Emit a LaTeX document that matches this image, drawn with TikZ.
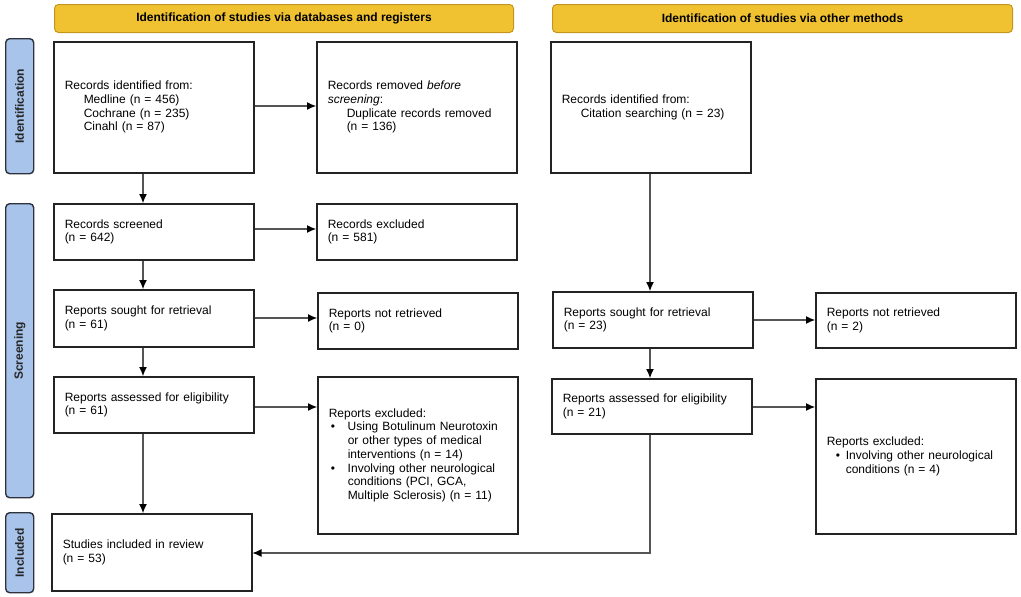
\documentclass[tikz,border=0pt]{standalone}
\usepackage{fontspec}
\setmainfont{Liberation Sans}
\usetikzlibrary{arrows.meta,positioning}
\definecolor{hdrfill}{RGB}{240,194,50}
\definecolor{hdrdraw}{RGB}{196,150,30}
\definecolor{sidefill}{RGB}{168,196,234}
\definecolor{sidedraw}{RGB}{45,50,60}
\definecolor{boxdraw}{RGB}{35,35,35}
\definecolor{arrowc}{RGB}{85,85,85}
\newcommand{\ind}{\hspace*{19pt}}
\newcommand{\bul}{\makebox[19pt][l]{\hspace{2pt}•}}
\newcommand{\bulb}{\makebox[10pt][l]{•}}
\begin{document}
\begin{tikzpicture}[x=1pt,y=-1pt,
  every node/.style={font=\fontsize{12}{13.7}\selectfont},
  hdr/.style={draw=hdrdraw, fill=hdrfill, line width=1pt, rounded corners=4pt,
    anchor=north west, font=\fontsize{12}{13.7}\selectfont\bfseries, inner sep=0pt},
  side/.style={draw=sidedraw, fill=sidefill, line width=1.4pt, rounded corners=4pt,
    anchor=north west, inner sep=0pt},
  sidetext/.style={font=\fontsize{12}{13.7}\selectfont\bfseries, rotate=90, color=black!85},
  box/.style={draw=boxdraw, line width=1.5pt, anchor=north west, align=left,
    inner xsep=11pt, inner ysep=0pt, minimum width=200pt},
  arr/.style={draw=arrowc, line width=1.1pt, -{Latex[length=9pt,width=8pt,color=black]}}
]
\useasboundingbox (0,0) rectangle (1021,597);
% headers
\node[hdr, minimum width=459pt, minimum height=28pt] (h1) at (54,4) {Identification of studies via databases and registers};
\node[hdr, minimum width=460pt, minimum height=28pt] (h2) at (552,4) {Identification of studies via other methods};
% side bars
\node[side, minimum width=28pt, minimum height=135pt] (s1) at (5,38) {};
\node[sidetext] at (s1.center) {Identification};
\node[side, minimum width=28pt, minimum height=294pt] (s2) at (5,203) {};
\node[sidetext] at (s2.center) {Screening};
\node[side, minimum width=28pt, minimum height=80pt] (s3) at (5,512) {};
\node[sidetext] at (s3.center) {Included};
% left column
\node[box, minimum height=131pt, text width=178pt] (id1) at (53,41)
  {Records identified from:\\ \ind Medline (n = 456)\\ \ind Cochrane (n = 235)\\ \ind Cinahl (n = 87)};
\node[box, minimum height=131pt, text width=178pt] (rem) at (316,41)
  {Records removed \textit{before}\\ \textit{screening}:\\ \ind Duplicate records removed\\ \ind (n = 136)};
\node[box, minimum height=56pt, text width=178pt] (scr) at (53,203)
  {Records screened\\ (n = 642)};
\node[box, minimum height=56pt, text width=178pt] (exc) at (316,203)
  {Records excluded\\ (n = 581)};
\node[box, minimum height=57pt, text width=178pt] (sou) at (53,289)
  {Reports sought for retrieval\\ (n = 61)};
\node[box, minimum height=56pt, text width=178pt] (nre) at (317,292)
  {Reports not retrieved\\ (n = 0)};
\node[box, minimum height=56pt, text width=178pt] (ass) at (53,376)
  {Reports assessed for eligibility\\ (n = 61)};
\node[box, minimum height=157pt, text width=178pt] (rex) at (317,376)
  {Reports excluded:\\ \bul Using Botulinum Neurotoxin\\ \ind or other types of medical\\ \ind interventions (n = 14)\\ \bul Involving other neurological\\ \ind conditions (PCI, GCA,\\ \ind Multiple Sclerosis) (n = 11)};
\node[box, minimum height=77pt, text width=178pt] (inc) at (51,513)
  {Studies included in review\\ (n = 53)};
% right column
\node[box, minimum height=131pt, text width=178pt] (oid) at (550,41)
  {Records identified from:\\ \ind Citation searching (n = 23)};
\node[box, minimum height=56pt, text width=178pt] (osou) at (552,291)
  {Reports sought for retrieval\\ (n = 23)};
\node[box, minimum height=55pt, text width=178pt] (onre) at (815,292)
  {Reports not retrieved\\ (n = 2)};
\node[box, minimum height=55pt, text width=178pt] (oass) at (551,378)
  {Reports assessed for eligibility\\ (n = 21)};
\node[box, minimum height=155pt, text width=178pt] (oex) at (815,378)
  {Reports excluded:\\ \hspace*{9pt}\bulb Involving other neurological\\ \hspace*{19pt}conditions (n = 4)};
% arrows left
\draw[arr] (id1.south -| 143,0) -- (scr.north -| 143,0);
\draw[arr] (id1.east |- 0,106) -- (rem.west |- 0,106);
\draw[arr] (scr.east |- 0,229) -- (exc.west |- 0,229);
\draw[arr] (scr.south -| 143,0) -- (sou.north -| 143,0);
\draw[arr] (sou.east |- 0,318) -- (nre.west |- 0,318);
\draw[arr] (sou.south -| 143,0) -- (ass.north -| 143,0);
\draw[arr] (ass.east |- 0,407) -- (rex.west |- 0,407);
\draw[arr] (ass.south -| 143,0) -- (inc.north -| 143,0);
% arrows right
\draw[arr] (oid.south -| 650,0) -- (osou.north -| 650,0);
\draw[arr] (osou.east |- 0,320) -- (onre.west |- 0,320);
\draw[arr] (osou.south -| 650,0) -- (oass.north -| 650,0);
\draw[arr] (oass.east |- 0,407) -- (oex.west |- 0,407);
\draw[arr] (oass.south -| 650,0) -- (650,553) -- (inc.east |- 0,553);
\end{tikzpicture}
\end{document}
